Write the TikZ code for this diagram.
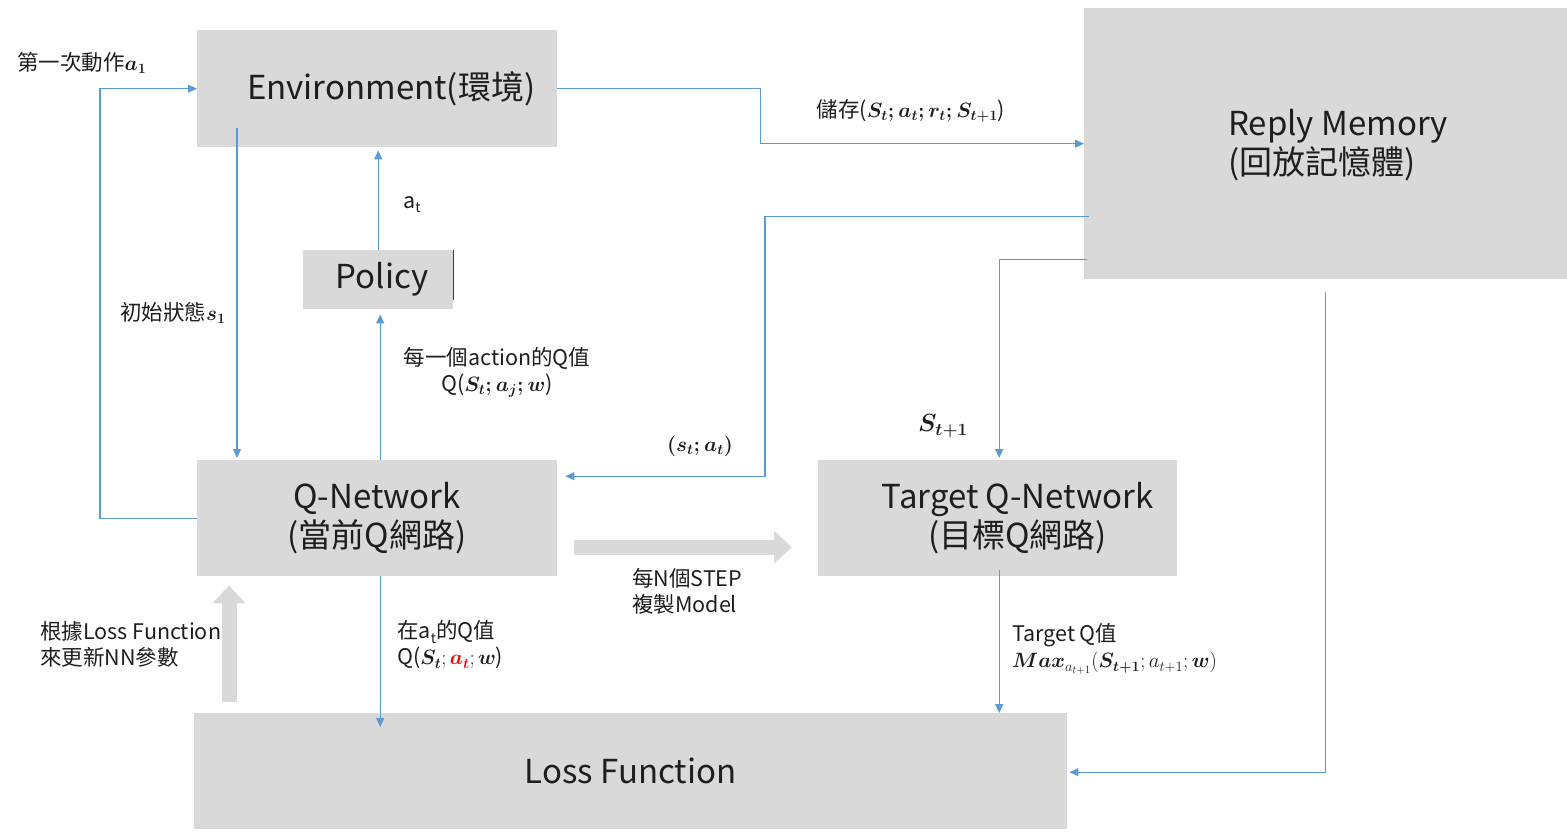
\documentclass[tikz,border=0pt]{standalone}
\usepackage{amsmath}
\usepackage{fontspec}
\setmainfont{Noto Sans CJK TC}
\usetikzlibrary{arrows.meta,calc}
\definecolor{boxgray}{RGB}{217,217,217}
\definecolor{flowblue}{RGB}{91,155,213}
\definecolor{txt}{RGB}{30,30,30}
\definecolor{artblue}{RGB}{40,60,140}
\newcommand\mysubt{\raisebox{-0.35ex}{\fontsize{14}{14}\selectfont t}}
\begin{document}
\begin{tikzpicture}[x=1pt,y=-1pt,
  box/.style={fill=boxgray,draw=none,anchor=north west,inner sep=0pt,align=center,
    text=txt,font=\fontsize{33}{39}\selectfont},
  flow/.style={draw=flowblue,line width=1.3pt,-{Triangle[length=9pt,width=8pt]}},
  copyarrow/.style={draw=boxgray,line width=15pt,-{Triangle[length=18pt,width=32pt]}},
  lbl/.style={inner sep=0pt,text=txt,font=\fontsize{21.5}{26}\selectfont}]
\useasboundingbox (0,0) rectangle (1567,836);
% boxes
\node[box,minimum width=360pt,minimum height=117pt] (env) at (197,30) {\hspace*{28pt}Environment(環境)};
\node[box,minimum width=483pt,minimum height=271pt] (rm) at (1084,8) {};
\node[lbl,anchor=west,align=left,font=\fontsize{33}{39}\selectfont] (rmtext) at ([xshift=144pt,yshift=-1pt]rm.west) {Reply Memory\\(回放記憶體)};
\node[box,minimum width=150pt,minimum height=59pt] (policy) at (303,250) {\hspace*{8pt}Policy};
\node[box,minimum width=360pt,minimum height=116pt] (qn) at (197,460) {Q-Network\\(當前Q網路)};
\node[box,minimum width=359pt,minimum height=116pt] (tqn) at (818,460) {\hspace*{40pt}Target Q-Network\\\hspace*{40pt}(目標Q網路)};
\node[box,minimum width=873pt,minimum height=116pt] (loss) at (194,713) {Loss Function};
\draw[artblue,line width=1.5pt] (policy.north east) -- ([yshift=9pt]policy.south east);
% blue connectors
\draw[flow] (qn.west) -- ++(-97,0) |- (env.west);
\draw[flow] ([xshift=40pt,yshift=19pt]env.south west) -- ([xshift=40pt,yshift=2pt]qn.north west);
\draw[flow] (policy.north) -- ([yshift=-3pt]policy.north |- env.south);
\draw[flow] ([xshift=3pt]qn.north) -- ([xshift=3pt,yshift=-5pt]qn.north |- policy.south);
\draw[flow] (env.east) -- ++(203,0) |- (rm.west);
\draw[flow] ([xshift=5pt,yshift=-72.5pt]rm.west) -- ++(-324,0) |- ([xshift=8pt,yshift=42pt]qn.east);
\draw[flow] ([xshift=3pt,yshift=-115.5pt]rm.west) -| ([xshift=1.5pt,yshift=2pt]tqn.north);
\draw[flow] ([yshift=-13pt]rm.south) |- ([xshift=2pt,yshift=-1pt]loss.east);
\draw[flow] ([xshift=3pt]qn.south) -- ([xshift=3pt,yshift=-14pt]qn.south |- loss.north);
\draw[flow] ([xshift=1.5pt,yshift=6pt]tqn.south) -- ([xshift=1.5pt]tqn.south |- loss.north);
% gray thick arrows
\draw[copyarrow] ([xshift=17pt,yshift=-29pt]qn.east) -- ([xshift=-26pt,yshift=-29pt]tqn.west);
\draw[copyarrow] ([xshift=35pt,yshift=11pt]loss.north west) -- ([xshift=32pt,yshift=-9pt]qn.south west);
% labels
\node[lbl,anchor=west] (l1) at (17,63) {第一次動作$\boldsymbol{a_1}$};
\node[lbl,anchor=west] (l2) at (120,313) {初始狀態$\boldsymbol{s_1}$};
\node[lbl] (l3) at (412,205) {a\mysubt};
\node[lbl,align=center] (l4) at (497,372) {每一個action的Q值\\Q($\boldsymbol{S_t;a_j;w}$)};
\node[lbl] (l5) at (911,111) {儲存($\boldsymbol{S_t;a_t;r_t;S_{t+1}}$)};
\node[lbl] (l6) at (700,446) {$\boldsymbol{(s_t;a_t)}$};
\node[lbl,font=\fontsize{26}{30}\selectfont] (l7) at (943,426) {$\boldsymbol{S_{t+1}}$};
\node[lbl,anchor=west,align=left] (l8) at (632,591) {每N個STEP\\複製Model};
\node[lbl,anchor=west,align=left] (l9) at (397,645) {在a\mysubt 的Q值\\Q($\boldsymbol{S_t};\boldsymbol{\textcolor{red}{a_t}};\boldsymbol{w}$)};
\node[lbl,anchor=west,align=left] (l10) at (1012,649) {Target Q值\\$\boldsymbol{Max}_{a_{t+1}}(\boldsymbol{S_{t+1}};a_{t+1};\boldsymbol{w})$};
\node[lbl,anchor=west,align=left] (l11) at (40,644) {根據Loss Function\\來更新NN參數};
\end{tikzpicture}
\end{document}
